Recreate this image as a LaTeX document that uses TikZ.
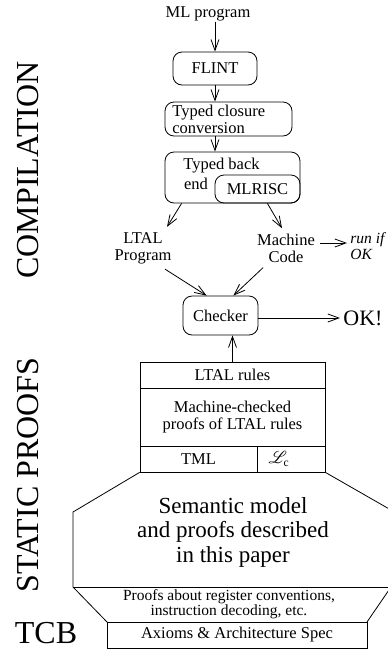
\documentclass[tikz,border=0pt]{standalone}
\usepackage{fontspec}
\setmainfont{Liberation Serif}
\usepackage{mathrsfs}
\usetikzlibrary{arrows.meta,calc}
\begin{document}
\begin{tikzpicture}[x=1pt,y=-1pt,line width=0.8pt,
  every node/.style={font=\fontsize{16.5}{17}\selectfont, inner sep=0pt},
  rbox/.style={draw, rounded corners=9pt},
  sbox/.style={draw},
  arr/.style={-{Straight Barb[length=11pt,width=8pt]}},
  biglabel/.style={font=\fontsize{32}{32}\selectfont}]
\useasboundingbox (0,0) rectangle (388,649);
\clip (0,0) rectangle (388,649);

% left labels
\node[biglabel, rotate=90] (comp) at (28.5,170) {COMPILATION};
\node[biglabel, rotate=90] (stat) at (28.5,475) {STATIC PROOFS};
\node[biglabel] (tcb) at (46,633) {TCB};

% compilation pipeline
\node (ml) at (208,14) {ML program};
\node[rbox, minimum width=84pt, minimum height=33pt] (flint) at (215,68.5) {FLINT};
\node[rbox, minimum width=127pt, minimum height=34pt] (tcc) at (228.5,119) {};
\node[anchor=west, align=left] (tcct) at (172,119) {Typed closure\\conversion};
\node[rbox, minimum width=135pt, minimum height=51pt] (tbe) at (232.5,177.5) {};
\node[rbox, minimum width=85pt, minimum height=28pt] (mlrisc) at (257.5,189) {MLRISC};
\node (tb) at (221.5,166) {Typed back};
\node (tend) at (196,184) {end};

\draw[arr] (ml.south -| flint.north) -- (flint.north);
\draw[arr] (flint.south) -- (flint.south |- tcc.north);
\draw[arr] (tcc.south -| flint.south) -- (tbe.north -| flint.south);

\node[align=center] (ltal) at (143,248) {LTAL\\Program};
\node[align=center] (mc) at (286,248) {Machine\\Code};
\node[anchor=west, align=left, font=\fontsize{15.5}{16}\itshape] (runif) at (350,246) {run if\\OK};

\draw[arr] ($(tbe.south west)+(17,0)$) -- ($(ltal.north)+(24,-5)$);
\draw[arr] ($(tbe.south east)+(-33,0)$) -- ($(mc.north)+(-4,-5)$);
\draw[arr] ($(mc.east)+(5,-5)$) -- ($(runif.west)+(-3,-3)$);

\node[rbox, minimum width=75pt, minimum height=39pt] (checker) at (220.5,315.5) {Checker};
\node[anchor=west, font=\fontsize{22}{22}\selectfont] (ok) at (343,318) {OK!};
\draw[arr] ($(ltal.south)+(22,5)$) -- ($(checker.north west)+(24,0)$);
\draw[arr] ($(mc.south)+(-23,5)$) -- ($(checker.north east)+(-25,0)$);
\draw[arr] (checker.east |- ok.west) -- ($(ok.west)+(-3,0)$);

% proof stack
\node[sbox, minimum width=185pt, minimum height=26pt] (ltalr) at (232.5,375) {LTAL rules};
\node[sbox, minimum width=185pt, minimum height=58pt, align=center] (mcp) at (232.5,417) {Machine-checked\\proofs of LTAL rules};
\node[sbox, minimum width=117pt, minimum height=26pt] (tml) at (198.5,459) {TML};
\node[sbox, minimum width=68pt, minimum height=26pt] (lc) at (291,459) {};
\node (lct) at (279,459) {$\mathscr{L}_{\mathrm{c}}$};
\draw[arr] (ltalr.north) -- (checker.south -| ltalr.north);

% semantic model octagon
\draw (tml.south west) -- (73,512) -- (73,587) -- (107,622);
\draw (lc.south east) -- (391,510) -- (391,587) -- (367,622);
\draw (73,587) -- (391,587);
\node[align=center, font=\fontsize{23}{24.5}\selectfont] (sem) at (233,532) {Semantic model\\and proofs described\\in this paper};
\node[align=center, font=\fontsize{15.5}{15}\selectfont] (pr) at (229,604) {Proofs about register conventions,\\instruction decoding, etc.};
\node[sbox, minimum width=260pt, minimum height=26pt] (ax) at (237,635) {Axioms \& Architecture Spec};
\end{tikzpicture}
\end{document}
